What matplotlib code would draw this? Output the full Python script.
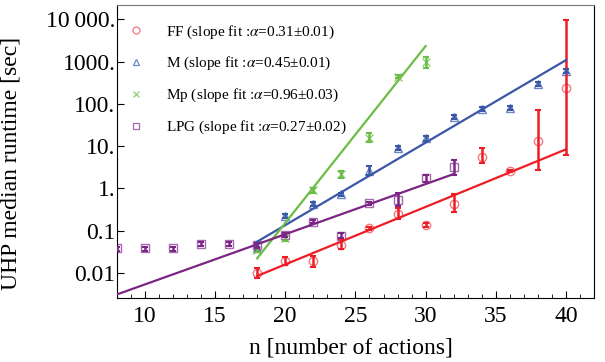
import matplotlib
matplotlib.use("Agg")
import matplotlib.pyplot as plt
from matplotlib.lines import Line2D
from matplotlib.ticker import FixedLocator, MultipleLocator

plt.rcParams["font.family"] = ["Liberation Serif", "DejaVu Serif"]
plt.rcParams["mathtext.fontset"] = "stix"

# FF
ff_n = [18, 20, 22, 24, 26, 28, 30, 32, 34, 36, 38, 40]
ff_val = [0.0098, 0.019, 0.019, 0.046, 0.114, 0.25, 0.136, 0.43, 5.6, 2.6, 13.4, 237]
ff_lo = [0.0076, 0.0154, 0.014, 0.037, 0.104, 0.19, 0.125, 0.27, 3.9, 2.4, 2.7, 6.2]
ff_hi = [0.0131, 0.0235, 0.025, 0.063, 0.125, 0.34, 0.15, 0.74, 8.9, 2.8, 71, 9600]
ff_fit_n = [18, 40]
ff_fit_v = [0.0085, 8.4]

# M
m_n = [18, 20, 22, 24, 26, 28, 30, 32, 34, 36, 38, 40]
m_val = [0.038, 0.22, 0.43, 0.72, 2.6, 8.9, 15.3, 49.5, 75, 81, 294, 587]
m_lo = [0.034, 0.20, 0.38, 0.65, 2.1, 8.0, 13.5, 44, 68, 72, 262, 525]
m_hi = [0.042, 0.245, 0.49, 0.80, 3.3, 9.9, 17.3, 55, 83, 91, 330, 655]
m_fit_n = [18, 40]
m_fit_v = [0.055, 1084]

# Mp
mp_n = [18, 20, 22, 24, 26, 28, 30]
mp_val = [0.035, 0.066, 0.92, 2.2, 15.8, 437, 955]
mp_lo = [0.031, 0.058, 0.80, 1.8, 12.5, 400, 720]
mp_hi = [0.040, 0.075, 1.05, 2.6, 20, 480, 1300]
mp_fit_n = [18, 30]
mp_fit_v = [0.0222, 2323]

# LPG
lpg_n = [8, 10, 12, 14, 16, 18, 20, 22, 24, 26, 28, 30, 32]
lpg_val = [0.038, 0.038, 0.038, 0.048, 0.048, 0.045, 0.079, 0.163, 0.075, 0.44, 0.52, 1.73, 3.2]
lpg_lo = [0.034, 0.034, 0.034, 0.043, 0.043, 0.040, 0.070, 0.150, 0.066, 0.41, 0.38, 1.40, 2.1]
lpg_hi = [0.042, 0.042, 0.042, 0.054, 0.054, 0.051, 0.090, 0.178, 0.088, 0.48, 0.80, 2.10, 4.6]
lpg_fit_n = [8, 32]
lpg_fit_v = [0.0031, 2.19]

y_ticks = [0.01, 0.1, 1, 10, 100, 1000, 10000]
y_labels = ["0.01", "0.1", "1.", "10.", "100.", "1000.", "10\u2009000."]

series = [
    ("FF", "o", "#ee1c25", "#f07a80", ff_n, ff_val, ff_lo, ff_hi, ff_fit_n, ff_fit_v, "0.31±0.01"),
    ("M", "^", "#3a56a6", "#6f86c4", m_n, m_val, m_lo, m_hi, m_fit_n, m_fit_v, "0.45±0.01"),
    ("Mp", "x", "#6cbd45", "#8fcd73", mp_n, mp_val, mp_lo, mp_hi, mp_fit_n, mp_fit_v, "0.96±0.03"),
    ("LPG", "s", "#7b2584", "#a56aae", lpg_n, lpg_val, lpg_lo, lpg_hi, lpg_fit_n, lpg_fit_v, "0.27±0.02"),
]

fig = plt.figure(figsize=(6.05, 3.62), dpi=100)
ax = fig.add_axes([0.193, 0.177, 0.789, 0.809])
ax.set_yscale("log")

handles = []
for name, mk, col, light, n, val, lo, hi, fn, fv, alpha in series:
    yerr = [[v - l for v, l in zip(val, lo)], [h - v for v, h in zip(val, hi)]]
    ax.errorbar(n, val, yerr=yerr, fmt="none", ecolor=col, elinewidth=1.8,
                capsize=2.5, capthick=1.5, zorder=3)
    ax.plot(n, val, mk, mfc="none", mec=light, ms=6, mew=1.0, ls="none", zorder=2)
    ax.plot(fn, fv, color=col, lw=1.6, zorder=4)
    handles.append(Line2D([], [], marker=mk, ls="none", mfc="none", mec=light, ms=5, mew=0.9,
                          label=name + r" (slope fit :$\alpha$=" + alpha + ")"))

ax.set_xlim(8, 42)
ax.set_ylim(10 ** -2.59, 10 ** 4.336)

ax.xaxis.set_major_locator(MultipleLocator(5))
ax.xaxis.set_minor_locator(MultipleLocator(1))
ax.yaxis.set_major_locator(FixedLocator(y_ticks))
ax.yaxis.set_minor_locator(FixedLocator([]))
ax.set_yticklabels(y_labels)
ax.tick_params(which="both", direction="in", top=False, right=False, labelsize=17)
ax.tick_params(which="major", length=5, width=0.8)
ax.tick_params(which="minor", length=3, width=0.6)
ax.tick_params(axis="x", pad=6)
ax.tick_params(axis="y", pad=1)
ax.spines["top"].set_color("#777777")

ax.set_xlabel("n [number of actions]", fontsize=17)
ax.set_ylabel("UHP median runtime [sec]", fontsize=17)
ax.xaxis.set_label_coords(0.49, -0.135)
ax.yaxis.set_label_coords(-0.2, 0.46)

ax.legend(handles=handles, loc="upper left", bbox_to_anchor=(-0.008, 0.985), frameon=False,
          fontsize=11, handlelength=1.2, handletextpad=1.4, labelspacing=0.95)

fig.savefig("out.png", dpi=100)
